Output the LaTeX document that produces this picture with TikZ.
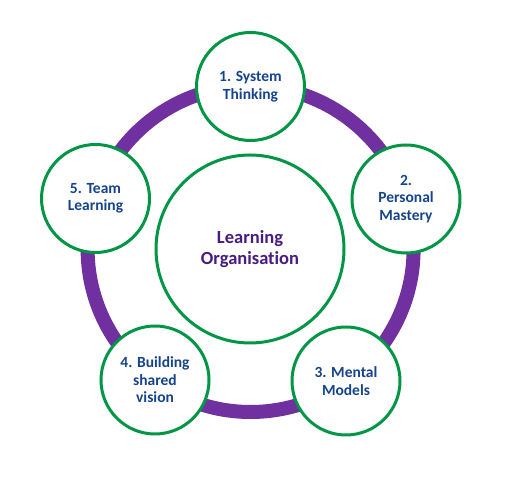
\documentclass[tikz,border=0pt]{standalone}
\usepackage{fontspec}
\setmainfont[Ligatures=NoCommon]{Carlito}
\definecolor{ringpurple}{RGB}{112,48,160}
\definecolor{circgreen}{RGB}{0,150,70}
\definecolor{txtblue}{RGB}{22,68,140}
\definecolor{txtpurple}{RGB}{72,28,128}
\begin{document}
\begin{tikzpicture}[x=1pt,y=1pt,
  outer/.style={circle,draw=circgreen,line width=3pt,fill=white,minimum size=108pt,inner sep=0pt,
    align=center,text=txtblue,font=\fontsize{15.5}{17.5}\selectfont\bfseries},
  centre/.style={circle,draw=circgreen,line width=3pt,fill=white,minimum size=188pt,inner sep=0pt,
    align=center,text=txtpurple,font=\fontsize{18.5}{21.5}\selectfont\bfseries}]
\useasboundingbox (0,0) rectangle (506,478);
\coordinate (c) at (250.6,229);
\draw[ringpurple,line width=14pt] (c) circle[radius=163];
\node[centre] (lo) at (250,229) {Learning\\Organisation};
\node[outer] (s1) at (250.5,391.5) {1. System\\Thinking};
\node[outer] (s2) at (406,279) {2.\\Personal\\Mastery};
\node[outer] (s3) at (346,97) {3. Mental\\Models};
\node[outer] (s4) at (155,98) {4. Building\\shared\\vision};
\node[outer] (s5) at (95.5,279.5) {5. Team\\Learning};
\end{tikzpicture}
\end{document}
